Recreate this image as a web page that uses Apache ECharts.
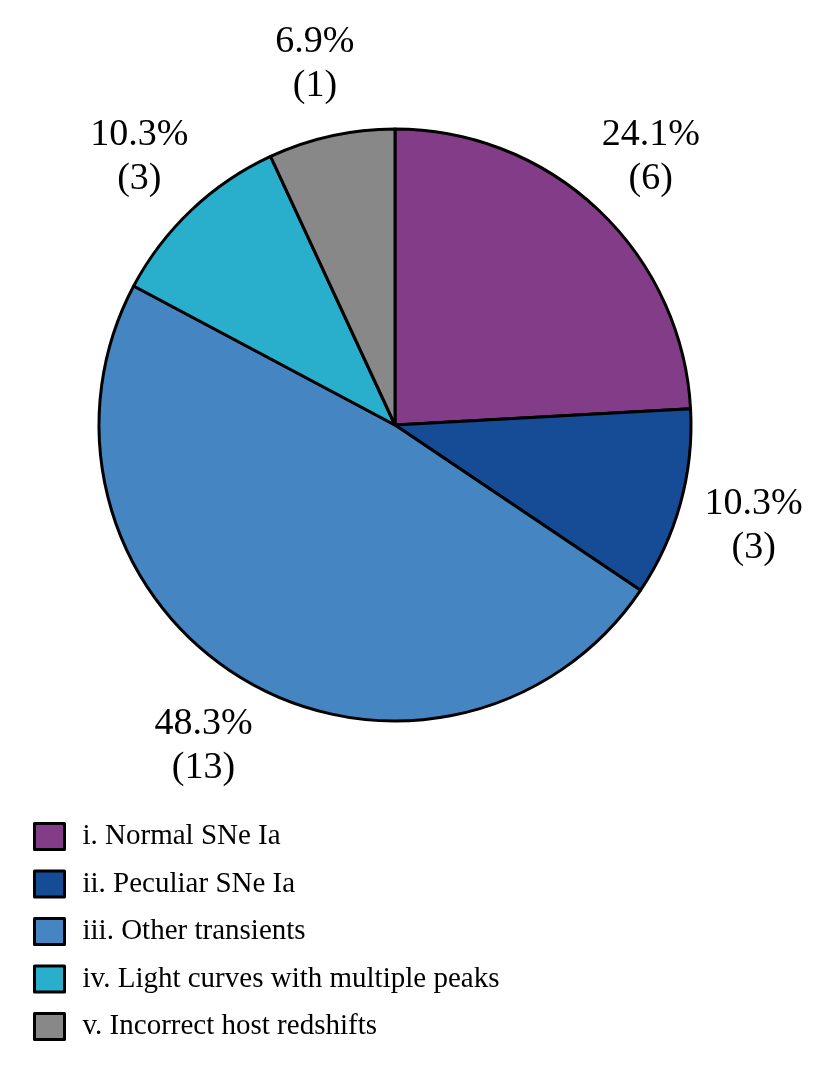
<!DOCTYPE html>
<html><head><meta charset="utf-8">
<script src="https://cdn.jsdelivr.net/npm/echarts@6/dist/echarts.min.js"></script>
<style>html,body{margin:0;padding:0;background:#fff}#c{width:829px;height:1081px}</style>
</head><body><div id="c"></div>
<script>
const categories = ['i. Normal SNe Ia','ii. Peculiar SNe Ia','iii. Other transients','iv. Light curves with multiple peaks','v. Incorrect host redshifts'];
const percents = [24.1, 10.3, 48.3, 10.3, 6.9];
const counts = [6, 3, 13, 3, 1];
const colors = ['#833C87','#164C96','#4586C2','#29AFCC','#888888'];

const font = 'Liberation Serif, Times New Roman, serif';
const data = categories.map((n,i)=>({name:n, value:percents[i], itemStyle:{color:colors[i]}}));
const labelData = categories.map((n,i)=>({name:n, value:percents[i]}));

const chart = echarts.init(document.getElementById('c'), null, {renderer:'canvas'});
chart.setOption({
  animation:false,
  legend:{
    orient:'vertical', left:33, top:822, padding:0,
    itemWidth:30, itemHeight:26, itemGap:18.5,
    icon:'rect',
    itemStyle:{borderColor:'#000', borderWidth:3},
    textStyle:{fontFamily:font, fontSize:29, color:'#000', lineHeight:26, padding:[0,0,0,13]},
    data:categories,
    selectedMode:false
  },
  series:[
    {
      type:'pie', center:[395,425], radius:[0,296], startAngle:90, clockwise:true,
      avoidLabelOverlap:false, silent:true,
      itemStyle:{borderColor:'#000', borderWidth:3},
      label:{show:false}, labelLine:{show:false},
      data:data
    },
    {
      type:'pie', center:[395,427], radius:[296,442], startAngle:90, clockwise:true,
      avoidLabelOverlap:false, silent:true,
      itemStyle:{color:'rgba(0,0,0,0)', borderWidth:0},
      label:{show:true, position:'inside', fontFamily:font, fontSize:38, lineHeight:44, color:'#000', align:'center',
        formatter:p=>percents[p.dataIndex].toFixed(1)+'%\n('+counts[p.dataIndex]+')'},
      labelLine:{show:false},
      data:labelData
    }
  ]
});
</script></body></html>
